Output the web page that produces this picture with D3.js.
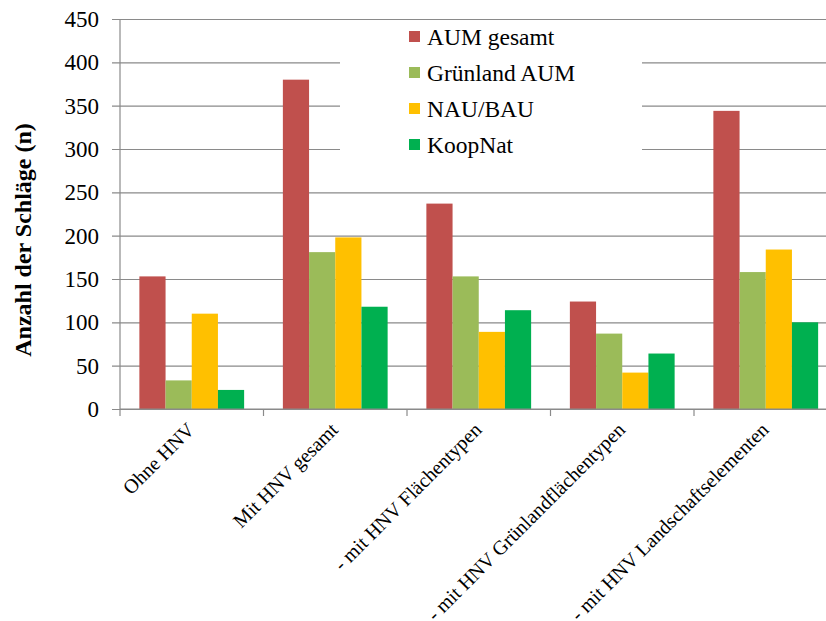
<!DOCTYPE html>
<html>
<head>
<meta charset="utf-8">
<script src="https://cdn.jsdelivr.net/npm/d3@7/dist/d3.min.js"></script>
<style>
  html, body { margin: 0; padding: 0; background: #fff; }
  svg { display: block; }
  svg text { font-family: "Liberation Serif", "Times New Roman", serif; fill: #000; }
</style>
</head>
<body>
<script>
// Anzahl der Schläge je HNV-Kategorie und Maßnahmengruppe
const categories = [
  "Ohne HNV",
  "Mit HNV gesamt",
  "- mit HNV Flächentypen",
  "- mit HNV Grünlandflächentypen",
  "- mit HNV Landschaftselementen"
];
const seriesNames = ["AUM gesamt", "Grünland AUM", "NAU/BAU", "KoopNat"];
const aumGesamt    = [153, 380, 237, 124, 344];
const gruenlandAUM = [33, 181, 153, 87, 158];
const nauBau       = [110, 198, 89, 42, 184];
const koopNat      = [22, 118, 114, 64, 100];
const yTicks = [0, 50, 100, 150, 200, 250, 300, 350, 400, 450];
const colors = ["#C0504D", "#9BBB59", "#FFC000", "#00B050"];

const seriesValues = [aumGesamt, gruenlandAUM, nauBau, koopNat];

const W = 826, H = 621;
const serif = "'Liberation Serif', 'Times New Roman', serif";
const plot = { left: 120, top: 19, bottom: 409, band: 143.5 };
plot.right = plot.left + plot.band * categories.length;

const svg = d3.select("body").append("svg")
  .attr("width", W).attr("height", H);

const x = d3.scaleBand()
  .domain(categories)
  .range([plot.left, plot.right])
  .paddingInner(0.27).paddingOuter(0.135);

const xs = d3.scaleBand()
  .domain(seriesNames)
  .range([0, x.bandwidth()]);

const y = d3.scaleLinear().domain([0, 450]).range([plot.bottom, plot.top]);

// horizontal gridlines with short ticks left of the axis
const grid = svg.append("g")
  .attr("transform", `translate(${plot.left},0)`)
  .call(d3.axisLeft(y).tickValues(yTicks)
    .tickSize(-(plot.right - plot.left)).tickSizeOuter(0).tickPadding(21)
    .tickFormat(d3.format("d")));
grid.attr("font-family", null).attr("font-size", null);
grid.select(".domain").remove();
grid.selectAll(".tick line")
  .attr("x1", -8)
  .attr("stroke", "#8a8a8a").attr("stroke-width", 1.2);
grid.selectAll(".tick text")
  .style("font-family", serif)
  .style("font-size", "23px");

// vertical axis line
svg.append("line")
  .attr("x1", plot.left).attr("x2", plot.left)
  .attr("y1", plot.top).attr("y2", plot.bottom)
  .attr("stroke", "#8a8a8a").attr("stroke-width", 1.2);

// bars
const groups = svg.append("g").selectAll("g")
  .data(categories)
  .join("g")
  .attr("transform", d => `translate(${x(d)},0)`);

groups.selectAll("rect")
  .data((d, i) => seriesNames.map((s, j) => ({ s, j, v: seriesValues[j][i] })))
  .join("rect")
  .attr("x", d => xs(d.s))
  .attr("width", xs.bandwidth())
  .attr("y", d => y(d.v))
  .attr("height", d => y(0) - y(d.v))
  .attr("fill", d => colors[d.j]);

// category axis with ticks between groups
const bounds = d3.range(categories.length + 1).map(i => plot.left + i * plot.band);
svg.append("line")
  .attr("x1", plot.left).attr("x2", plot.right)
  .attr("y1", plot.bottom).attr("y2", plot.bottom)
  .attr("stroke", "#8a8a8a").attr("stroke-width", 1.2);
svg.append("g").selectAll("line")
  .data(bounds)
  .join("line")
  .attr("x1", d => d).attr("x2", d => d)
  .attr("y1", plot.bottom).attr("y2", plot.bottom + 7)
  .attr("stroke", "#8a8a8a").attr("stroke-width", 1.2);

// rotated category labels, ending just below their group
svg.append("g").selectAll("text")
  .data(categories)
  .join("text")
  .attr("transform", d => `translate(${x(d) + x.bandwidth() / 2 + 4},${plot.bottom + 22}) rotate(-45)`)
  .attr("text-anchor", "end")
  .style("font-family", serif)
  .style("font-size", "20px")
  .text(d => d);

// y axis title
svg.append("text")
  .attr("transform", "translate(23,240) rotate(-90)")
  .attr("text-anchor", "middle")
  .attr("dy", "0.35em")
  .style("font-family", serif)
  .style("font-size", "24px")
  .style("font-weight", "bold")
  .text("Anzahl der Schläge (n)");

// legend on a white panel
const legend = svg.append("g");
legend.append("rect")
  .attr("x", 340).attr("y", plot.top + 2)
  .attr("width", 302).attr("height", 146)
  .attr("fill", "#fff");
const items = legend.selectAll("g")
  .data(seriesNames)
  .join("g")
  .attr("transform", (d, i) => `translate(409,${37 + i * 36})`);
items.append("rect")
  .attr("x", 0).attr("y", -6)
  .attr("width", 11).attr("height", 11)
  .attr("fill", (d, i) => colors[i]);
items.append("text")
  .attr("x", 18).attr("dy", "0.35em")
  .style("font-family", serif)
  .style("font-size", "23.5px")
  .text(d => d);
</script>
</body>
</html>
